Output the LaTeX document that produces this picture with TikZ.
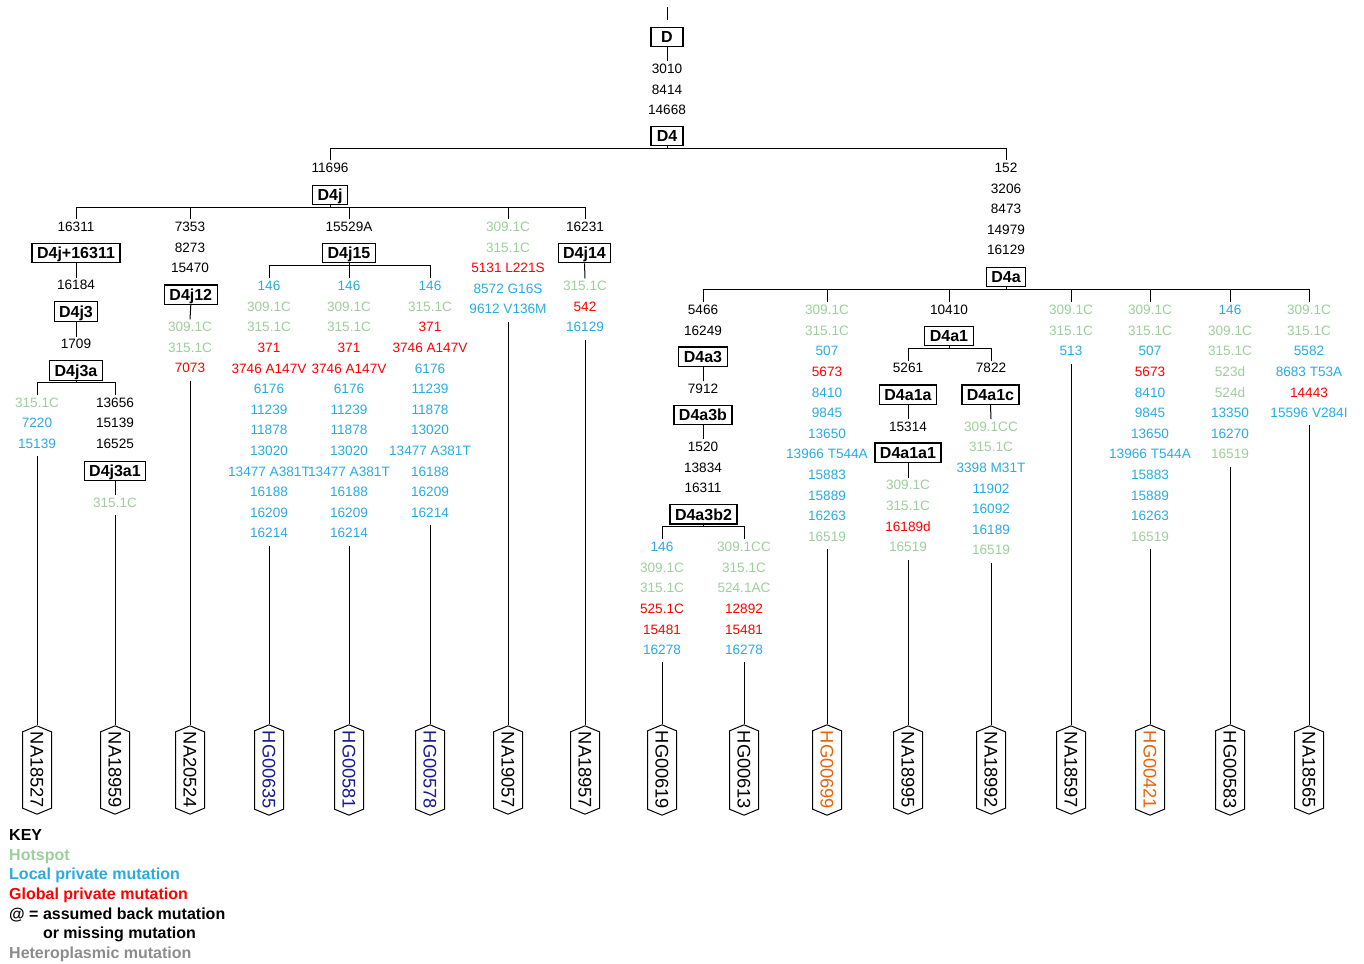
\documentclass[tikz,border=0pt]{standalone}
\usepackage{fontspec}
\setmainfont{Liberation Sans}
\usetikzlibrary{shapes.symbols}

\definecolor{hotspot}{RGB}{156,207,156}
\definecolor{localpm}{RGB}{41,171,226}
\definecolor{globalpm}{RGB}{255,0,0}
\definecolor{hetero}{RGB}{140,140,140}
\definecolor{navyid}{RGB}{25,25,145}
\definecolor{orangeid}{RGB}{232,99,10}

\newcommand{\hsp}[1]{\textcolor{hotspot}{#1}}
\newcommand{\lpm}[1]{\textcolor{localpm}{#1}}
\newcommand{\gpm}[1]{\textcolor{globalpm}{#1}}

\tikzset{
	hg/.style={draw, line width=1.2pt, font=\bfseries\fontsize{16}{19}\selectfont, inner xsep=5pt, inner ysep=4pt, text height=11.5pt, text depth=0pt, minimum width=32pt},
	mut/.style={align=center, anchor=north, yshift=6.6pt, inner sep=2.5pt, font=\fontsize{13.6}{20.6}\selectfont},
	sample/.style={draw, line width=1pt, shape=signal, signal to=north and south, signal pointer angle=135, minimum width=29pt, minimum height=80pt, inner sep=0pt, font=\fontsize{18.3}{20}\selectfont},
	branch/.style={line width=1pt},
	leaf/.style={line width=1pt, shorten <=5pt},
}

\begin{document}
\begin{tikzpicture}[x=1pt, y=-1pt]

	\useasboundingbox (0,0) rectangle (1364,963);

	%trunk
	\coordinate (top) at (667,7);
	\node[hg] (D) at (667,37) {D};
	\node[mut] (mD4) at (667,68) {3010\\8414\\14668};
	\node[hg] (D4) at (667,136) {D4};
	\draw[branch] (top) -- ([yshift=7pt]D.north);
	\draw[branch] (D.south) -- (mD4.north);

	%D4 split
	\node[mut] (mD4j) at (330,167) {11696};
	\node[hg] (D4j) at (330,195) {D4j};
	\node[mut] (mD4a) at (1006,167) {152\\3206\\8473\\14979\\16129};
	\node[hg] (D4a) at (1006,277) {D4a};
	\draw[branch] (D4.south) -- ++(0,2) coordinate (bD4);
	\draw[branch] (mD4j.north) |- (bD4) -| (mD4a.north);

	%D4j branch
	\node[mut] (mD4j16311) at (76,226) {16311};
	\node[hg] (D4j16311) at (76,253) {D4j+16311};
	\node[mut] (mD4j3) at (76,284.3) {16184};
	\node[hg] (D4j3) at (76,311.5) {D4j3};
	\node[mut] (mD4j3a) at (76,343.3) {1709};
	\node[hg] (D4j3a) at (76,370.5) {D4j3a};
	\draw[branch] (D4j16311.south) -- (mD4j3.north);
	\draw[branch] (D4j3.south) -- (mD4j3a.north);
	\node[mut] (mNA18527) at (37,401.7) {\hsp{315.1C}\\\lpm{7220}\\\lpm{15139}};
	\node[mut] (mD4j3a1) at (115,401.7) {13656\\15139\\16525};
	\node[hg] (D4j3a1) at (115,471) {D4j3a1};
	\node[mut] (mNA18959) at (115,501.7) {\hsp{315.1C}};
	\draw[branch] (D4j3a.south) -- ++(0,2) coordinate (bD4j3a);
	\draw[branch] (mNA18527.north) |- (bD4j3a) -| (mD4j3a1.north);
	\draw[branch] (D4j3a1.south) -- (mNA18959.north);

	\node[mut] (mD4j12) at (190,226) {7353\\8273\\15470};
	\node[hg] (D4j12) at (190.8,294.7) {D4j12};
	\node[mut] (mNA20524) at (190,326) {\hsp{309.1C}\\\hsp{315.1C}\\\gpm{7073}};
	\draw[branch] (D4j12.south) -- (mNA20524.north);

	\node[mut] (mD4j15) at (349,226) {15529A};
	\node[hg] (D4j15) at (349,253) {D4j15};
	\node[mut] (mHG00635) at (269,285) {\lpm{146}\\\hsp{309.1C}\\\hsp{315.1C}\\\gpm{371}\\\gpm{3746 A147V}\\\lpm{6176}\\\lpm{11239}\\\lpm{11878}\\\lpm{13020}\\\lpm{13477 A381T}\\\lpm{16188}\\\lpm{16209}\\\lpm{16214}};
	\node[mut] (mHG00581) at (349,285) {\lpm{146}\\\hsp{309.1C}\\\hsp{315.1C}\\\gpm{371}\\\gpm{3746 A147V}\\\lpm{6176}\\\lpm{11239}\\\lpm{11878}\\\lpm{13020}\\\lpm{13477 A381T}\\\lpm{16188}\\\lpm{16209}\\\lpm{16214}};
	\node[mut] (mHG00578) at (430,285) {\lpm{146}\\\hsp{315.1C}\\\gpm{371}\\\gpm{3746 A147V}\\\lpm{6176}\\\lpm{11239}\\\lpm{11878}\\\lpm{13020}\\\lpm{13477 A381T}\\\lpm{16188}\\\lpm{16209}\\\lpm{16214}};
	\draw[branch] (D4j15.south) -- ++(0,2.5) coordinate (bD4j15);
	\draw[branch] (mHG00635.north) |- (bD4j15) -| (mHG00578.north);
	\draw[branch] (mHG00581.north) -- (mHG00581.north |- bD4j15);

	\node[mut] (mNA19057) at (508,226) {\hsp{309.1C}\\\hsp{315.1C}\\\gpm{5131 L221S}\\\lpm{8572 G16S}\\\lpm{9612 V136M}};

	\node[mut] (mD4j14) at (585,226) {16231};
	\node[hg] (D4j14) at (584.5,253) {D4j14};
	\node[mut] (mNA18957) at (585,285) {\hsp{315.1C}\\\gpm{542}\\\lpm{16129}};
	\draw[branch] (D4j14.south) -- (mNA18957.north);

	\draw[branch] (D4j.south) -- ++(0,2) coordinate (bD4j);
	\draw[branch] (mD4j16311.north) |- (bD4j) -| (mD4j14.north);
	\draw[branch] (mD4j12.north) -- (mD4j12.north |- bD4j);
	\draw[branch] (mD4j15.north) -- (mD4j15.north |- bD4j);
	\draw[branch] (mNA19057.north) -- (mNA19057.north |- bD4j);

	%D4a branch
	\node[mut] (mD4a3) at (703,309) {5466\\16249};
	\node[hg] (D4a3) at (703,356.7) {D4a3};
	\node[mut] (mD4a3b) at (703,387.7) {7912};
	\node[hg] (D4a3b) at (703,415) {D4a3b};
	\node[mut] (mD4a3b2) at (703,446) {1520\\13834\\16311};
	\node[hg] (D4a3b2) at (703.5,514.3) {D4a3b2};
	\draw[branch] (D4a3.south) -- (mD4a3b.north);
	\draw[branch] (D4a3b.south) -- (mD4a3b2.north);
	\node[mut] (mHG00619) at (662,546) {\lpm{146}\\\hsp{309.1C}\\\hsp{315.1C}\\\gpm{525.1C}\\\gpm{15481}\\\lpm{16278}};
	\node[mut] (mHG00613) at (744,546) {\hsp{309.1CC}\\\hsp{315.1C}\\\hsp{524.1AC}\\\gpm{12892}\\\gpm{15481}\\\lpm{16278}};
	\draw[branch] (D4a3b2.south) -- ++(0,2) coordinate (bD4a3b2);
	\draw[branch] (mHG00619.north) |- (bD4a3b2) -| (mHG00613.north);

	\node[mut] (mHG00699) at (827,309) {\hsp{309.1C}\\\hsp{315.1C}\\\lpm{507}\\\gpm{5673}\\\lpm{8410}\\\lpm{9845}\\\lpm{13650}\\\lpm{13966 T544A}\\\lpm{15883}\\\lpm{15889}\\\lpm{16263}\\\hsp{16519}};

	\node[mut] (mD4a1) at (949,309) {10410};
	\node[hg] (D4a1) at (949,336) {D4a1};
	\node[mut] (mD4a1a) at (908,367.3) {5261};
	\node[hg] (D4a1a) at (908,394.7) {D4a1a};
	\node[mut] (mD4a1a1) at (908,425.7) {15314};
	\node[hg] (D4a1a1) at (908,452.7) {D4a1a1};
	\node[mut] (mNA18995) at (908,484.3) {\hsp{309.1C}\\\hsp{315.1C}\\\gpm{16189d}\\\hsp{16519}};
	\draw[branch] (D4a1a.south) -- (mD4a1a1.north);
	\draw[branch] (D4a1a1.south) -- (mNA18995.north);
	\node[mut] (mD4a1c) at (991,367.3) {7822};
	\node[hg] (D4a1c) at (990.5,394.7) {D4a1c};
	\node[mut] (mNA18992) at (991,425.7) {\hsp{309.1CC}\\\hsp{315.1C}\\\lpm{3398 M31T}\\\lpm{11902}\\\lpm{16092}\\\lpm{16189}\\\hsp{16519}};
	\draw[branch] (D4a1c.south) -- (mNA18992.north);
	\draw[branch] (D4a1.south) -- ++(0,2) coordinate (bD4a1);
	\draw[branch] (mD4a1a.north) |- (bD4a1) -| (mD4a1c.north);

	\node[mut] (mNA18597) at (1071,309) {\hsp{309.1C}\\\hsp{315.1C}\\\lpm{513}};
	\node[mut] (mHG00421) at (1150,309) {\hsp{309.1C}\\\hsp{315.1C}\\\lpm{507}\\\gpm{5673}\\\lpm{8410}\\\lpm{9845}\\\lpm{13650}\\\lpm{13966 T544A}\\\lpm{15883}\\\lpm{15889}\\\lpm{16263}\\\hsp{16519}};
	\node[mut] (mHG00583) at (1230,309) {\lpm{146}\\\hsp{309.1C}\\\hsp{315.1C}\\\hsp{523d}\\\hsp{524d}\\\lpm{13350}\\\lpm{16270}\\\hsp{16519}};
	\node[mut] (mNA18565) at (1309,309) {\hsp{309.1C}\\\hsp{315.1C}\\\lpm{5582}\\\lpm{8683 T53A}\\\gpm{14443}\\\lpm{15596 V284I}};

	\draw[branch] (D4a.south) -- ++(0,2) coordinate (bD4a);
	\draw[branch] (mD4a3.north) |- (bD4a) -| (mNA18565.north);
	\draw[branch] (mHG00699.north) -- (mHG00699.north |- bD4a);
	\draw[branch] (mD4a1.north) -- (mD4a1.north |- bD4a);
	\draw[branch] (mNA18597.north) -- (mNA18597.north |- bD4a);
	\draw[branch] (mHG00421.north) -- (mHG00421.north |- bD4a);
	\draw[branch] (mHG00583.north) -- (mHG00583.north |- bD4a);

	%samples
	\node[sample] (NA18527) at (37,770) {\rotatebox{-90}{NA18527}};
	\node[sample] (NA18959) at (115,770) {\rotatebox{-90}{NA18959}};
	\node[sample] (NA20524) at (190,770) {\rotatebox{-90}{NA20524}};
	\node[sample, text=navyid] (HG00635) at (269,770) {\rotatebox{-90}{HG00635}};
	\node[sample, text=navyid] (HG00581) at (349,770) {\rotatebox{-90}{HG00581}};
	\node[sample, text=navyid] (HG00578) at (430,770) {\rotatebox{-90}{HG00578}};
	\node[sample] (NA19057) at (508,770) {\rotatebox{-90}{NA19057}};
	\node[sample] (NA18957) at (585,770) {\rotatebox{-90}{NA18957}};
	\node[sample] (HG00619) at (662,770) {\rotatebox{-90}{HG00619}};
	\node[sample] (HG00613) at (744,770) {\rotatebox{-90}{HG00613}};
	\node[sample, text=orangeid] (HG00699) at (827,770) {\rotatebox{-90}{HG00699}};
	\node[sample] (NA18995) at (908,770) {\rotatebox{-90}{NA18995}};
	\node[sample] (NA18992) at (991,770) {\rotatebox{-90}{NA18992}};
	\node[sample] (NA18597) at (1071,770) {\rotatebox{-90}{NA18597}};
	\node[sample, text=orangeid] (HG00421) at (1150,770) {\rotatebox{-90}{HG00421}};
	\node[sample] (HG00583) at (1230,770) {\rotatebox{-90}{HG00583}};
	\node[sample] (NA18565) at (1309,770) {\rotatebox{-90}{NA18565}};

	\foreach \s in {NA18527,NA18959,NA20524,HG00635,HG00581,HG00578,NA19057,NA18957,HG00619,HG00613,HG00699,NA18995,NA18992,NA18597,HG00421,HG00583,NA18565}
		\draw[leaf] (m\s.south) -- (\s.north);

	%key
	\node[anchor=north west, inner sep=0pt, yshift=5.75pt, align=left, font=\bfseries\fontsize{16}{19.7}\selectfont] (key) at (9,835) {KEY\\\textcolor{hotspot}{Hotspot}\\\textcolor{localpm}{Local private mutation}\\\textcolor{globalpm}{Global private mutation}\\@ = assumed back mutation\\\hphantom{@ = }or missing mutation\\\textcolor{hetero}{Heteroplasmic mutation}};

\end{tikzpicture}
\end{document}
